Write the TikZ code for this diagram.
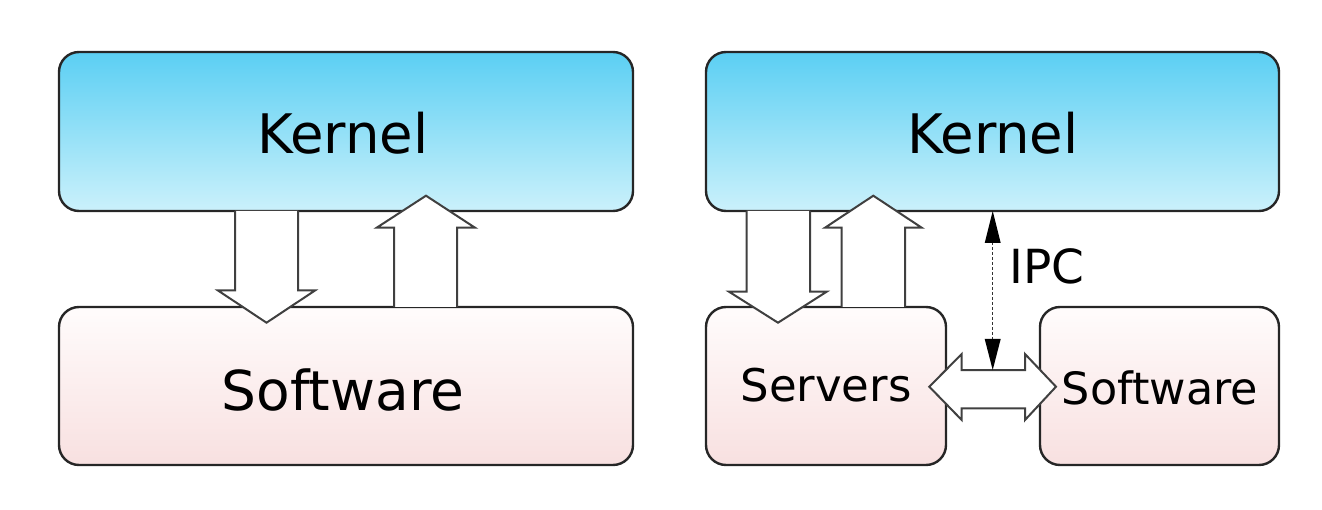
\documentclass[tikz,border=0pt]{standalone}
\usepackage{fontspec}
\setmainfont{DejaVu Sans}
\definecolor{kTop}{HTML}{5BCFF3}
\definecolor{kBot}{HTML}{CBF1FB}
\definecolor{sTop}{HTML}{FFFCFC}
\definecolor{sBot}{HTML}{F8E0E0}
\begin{document}
\begin{tikzpicture}[x=1pt,y=-1pt,
  box/.style={draw=black!85, line width=2.4pt, rounded corners=20pt, inner sep=0pt},
  kbox/.style={box, top color=kTop, bottom color=kBot},
  sbox/.style={box, top color=sTop, bottom color=sBot},
  blockarrow/.style={draw=black!75, line width=2pt, fill=white, line join=miter},
  ipc/.style={draw=black!80, line width=1.1pt, densely dashed},
  tip/.style={fill=black, draw=none}]
\useasboundingbox (0,0) rectangle (1322,510);
% boxes
\node[kbox, minimum width=574pt, minimum height=159pt] (k1) at (346,131.5) {};
\node[sbox, minimum width=574pt, minimum height=158pt] (s1) at (346,386) {};
\node[kbox, minimum width=573pt, minimum height=159pt] (k2) at (992.5,131.5) {};
\node[sbox, minimum width=240pt, minimum height=158pt] (srv) at (826,386) {};
\node[sbox, minimum width=239pt, minimum height=158pt] (s2) at (1159.5,386) {};
% labels
\node[font=\fontsize{54.5}{60}\selectfont] (k1t) at (343,133) {Kernel};
\node[font=\fontsize{55}{60}\selectfont] (s1t) at (343,390) {Software};
\node[font=\fontsize{54.5}{60}\selectfont] (k2t) at (993,133) {Kernel};
\node[font=\fontsize{45}{50}\selectfont] (srvt) at (826,385) {Servers};
\node[font=\fontsize{44.5}{50}\selectfont] (s2t) at (1160,388) {Software};
% left block arrows
\draw[blockarrow] (235,211) -- (235,290.5) -- (218,290.5) -- (266.5,322.7) -- (315,290.5) -- (298,290.5) -- (298,211);
\draw[blockarrow] (394,307) -- (394,227.7) -- (376.7,227.7) -- (426,195.7) -- (475,227.7) -- (457,227.7) -- (457,307);
% right block arrows
\draw[blockarrow] (746.7,211) -- (746.7,291.7) -- (729,291.7) -- (778,322.7) -- (826.7,291.7) -- (810,291.7) -- (810,211);
\draw[blockarrow] (841.7,307) -- (841.7,227.7) -- (825,227.7) -- (873.3,195.7) -- (921.7,227.7) -- (905,227.7) -- (905,307);
% horizontal double arrow
\draw[blockarrow] (929.3,386.7) -- (961.7,354) -- (961.7,370) -- (1025,370) -- (1025,354) -- (1056,386.7) -- (1025,420) -- (1025,408.3) -- (961.7,408.3) -- (961.7,420) -- cycle;
% IPC
\coordinate (ipcTop) at (992.7,211);
\coordinate (ipcBot) at (992.7,370);
\draw[ipc] (992.7,242) -- (992.7,340);
\fill[tip] (ipcTop) -- (984.7,243) -- (1000.7,243) -- cycle;
\fill[tip] (ipcBot) -- (984.7,339) -- (1000.7,339) -- cycle;
\node[font=\fontsize{47}{50}\selectfont] (ipct) at (1047,266) {IPC};
\end{tikzpicture}
\end{document}
